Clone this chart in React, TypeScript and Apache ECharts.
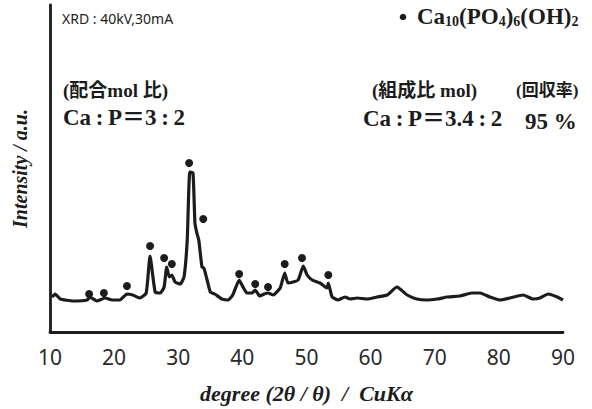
import React, { useEffect, useRef } from "react";
import * as echarts from "echarts";

// 2θ (degree) of the measured pattern
const degrees = [
  10.3, 10.8, 11.6, 13.6, 15.8, 16.2, 17.3, 18.6, 19.7, 20.9, 22.0, 22.9, 24.0, 25.0, 25.6, 26.4,
  27.2, 27.8, 28.2, 28.6, 29.0, 29.5, 30.3, 30.9, 31.4, 31.8, 32.3, 32.6, 32.9, 33.2, 33.7, 34.0,
  34.5, 35.0, 35.7, 36.8, 37.8, 38.5, 39.5, 40.1, 40.7, 41.5, 42.0, 42.7, 43.4, 44.0, 44.8, 45.9,
  46.6, 47.1, 47.9, 48.7, 49.5, 50.1, 50.9, 52.1, 53.2, 53.4, 54.0, 54.9, 56.0, 56.8, 57.9, 59.4,
  61.0, 62.6, 64.1, 65.7, 67.2, 68.8, 70.4, 71.9, 73.9, 75.8, 77.1, 78.6, 80.2, 81.7, 83.8, 85.3,
  86.4, 87.7, 89.1, 90.0,
];
// intensity (a.u.)
const intensities = [
  35, 38, 33, 31, 32, 35, 31, 34, 32, 32, 38, 37, 34, 39, 76, 40,
  39, 45, 65, 55, 57, 50, 48, 55, 92, 160, 159, 109, 99, 92, 65, 64,
  52, 40, 38, 33, 32, 37, 52, 45, 39, 39, 42, 36, 38, 39, 37, 44,
  59, 49, 50, 52, 66, 57, 52, 49, 44, 49, 35, 32, 35, 33, 34, 33,
  35, 37, 45, 37, 33, 32, 33, 35, 36, 39, 39, 35, 32, 34, 37, 33,
  34, 38, 35, 32,
];
// hydroxyapatite peak markers
const markerDegrees = [16.1, 18.4, 22.0, 25.6, 27.8, 29.0, 31.7, 33.9, 39.5, 42.0, 44.0, 46.6, 49.3, 53.4];
const markerHeights = [38, 39, 46, 86, 74, 68, 169, 113, 58, 48, 45, 68, 74, 57];

const xTicks = [10, 20, 30, 40, 50, 60, 70, 80, 90];

const serif = "'Liberation Serif', 'DejaVu Serif', 'Noto Sans CJK JP', serif";
const ink = "#1c1c1c";

export default function App() {
  const ref = useRef<HTMLDivElement>(null);

  useEffect(() => {
    if (!ref.current) return;
    const chart = echarts.init(ref.current, undefined, { renderer: "svg" });
    const lineData = degrees.map((d, i) => [d, intensities[i]]);
    const markData = markerDegrees.map((d, i) => [d, markerHeights[i]]);

    chart.setOption({
      animation: false,
      backgroundColor: "#ffffff",
      grid: { left: 50, right: 29, top: 5, bottom: 77 },
      xAxis: {
        type: "value",
        min: xTicks[0],
        max: xTicks[xTicks.length - 1],
        interval: 10,
        axisLine: { show: true, lineStyle: { color: ink, width: 2.8 } },
        axisTick: { show: false },
        splitLine: { show: false },
        axisLabel: {
          margin: 15,
          fontSize: 21,
          color: "#2a2a2a",
          fontFamily: "'Noto Sans', sans-serif",
        },
        name: "degree (2θ / θ)  /  CuKα",
        nameLocation: "middle",
        nameGap: 50,
        nameTextStyle: {
          fontFamily: serif,
          fontStyle: "italic",
          fontWeight: "bold",
          fontSize: 22,
          color: ink,
        },
      },
      yAxis: {
        type: "value",
        min: 0,
        max: 327,
        axisLine: { show: true, lineStyle: { color: ink, width: 2.8 } },
        axisTick: { show: false },
        axisLabel: { show: false },
        splitLine: { show: false },
        name: "Intensity / a.u.",
        nameLocation: "middle",
        nameGap: 20,
        nameTextStyle: {
          fontFamily: serif,
          fontStyle: "italic",
          fontWeight: "bold",
          fontSize: 20,
          color: ink,
        },
      },
      series: [
        {
          type: "line",
          data: lineData,
          showSymbol: false,
          smooth: 0.15,
          lineStyle: { color: ink, width: 3.2 },
          z: 2,
        },
        {
          type: "scatter",
          data: markData,
          symbolSize: 8,
          itemStyle: { color: ink, opacity: 1 },
          z: 3,
        },
      ],
      graphic: [
        {
          type: "text",
          x: 62,
          y: 18,
          style: {
            text: "XRD : 40kV,30mA",
            fill: "#222",
            font: "14px 'Noto Sans', sans-serif",
            textVerticalAlign: "middle",
          },
        },
        {
          type: "circle",
          shape: { cx: 403, cy: 17, r: 3.3 },
          style: { fill: ink },
        },
        {
          type: "text",
          x: 417,
          y: 28,
          style: {
            text: "{a|Ca}{s|10}{a|(PO}{s|4}{a|)}{s|6}{a|(OH)}{s|2}",
            textVerticalAlign: "bottom",
            rich: {
              a: { fontFamily: serif, fontWeight: "bold", fontSize: 23, fill: ink, color: ink, verticalAlign: "bottom", lineHeight: 24 },
              s: { fontFamily: serif, fontWeight: "bold", fontSize: 14, fill: ink, color: ink, verticalAlign: "bottom", lineHeight: 18 },
            },
          },
        },
        {
          type: "text",
          x: 63,
          y: 90,
          style: {
            text: "(配合mol 比)",
            fill: ink,
            font: `bold 19px ${serif}`,
            textVerticalAlign: "middle",
          },
        },
        {
          type: "text",
          x: 63,
          y: 117,
          style: {
            text: "Ca\u2009:\u2009P＝3\u2009:\u20092",
            fill: ink,
            font: `bold 23px ${serif}`,
            textVerticalAlign: "middle",
          },
        },
        {
          type: "text",
          x: 372,
          y: 90,
          style: {
            text: "(組成比 mol)",
            fill: ink,
            font: `bold 19px ${serif}`,
            textVerticalAlign: "middle",
          },
        },
        {
          type: "text",
          x: 363,
          y: 118,
          style: {
            text: "Ca\u2009:\u2009P＝3.4\u2009:\u20092",
            fill: ink,
            font: `bold 23px ${serif}`,
            textVerticalAlign: "middle",
          },
        },
        {
          type: "text",
          x: 516,
          y: 90,
          style: {
            text: "(回収率)",
            fill: ink,
            font: `bold 17px ${serif}`,
            textVerticalAlign: "middle",
          },
        },
        {
          type: "text",
          x: 525,
          y: 121,
          style: {
            text: "95 %",
            fill: ink,
            font: `bold 23px ${serif}`,
            textVerticalAlign: "middle",
          },
        },
      ],
    });
    return () => chart.dispose();
  }, []);

  return (
    <div
      ref={ref}
      style={{ position: "fixed", left: 0, top: 0, width: 592, height: 409, background: "#fff" }}
    />
  );
}
